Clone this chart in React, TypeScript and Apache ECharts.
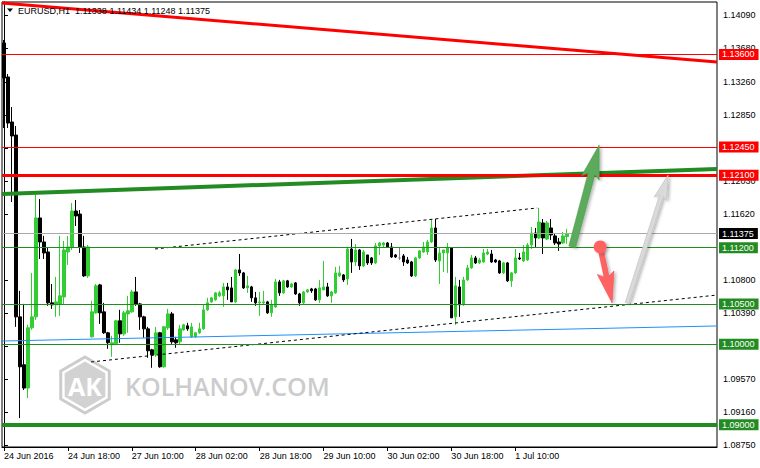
import React, { useEffect, useRef } from "react";
import * as echarts from "echarts";

const FONT = "Liberation Sans, Arial, sans-serif";

// ---- data ----
const tickLabels = [
  "24 Jun 2016", "24 Jun 18:00", "27 Jun 10:00", "28 Jun 02:00", "28 Jun 18:00",
  "29 Jun 10:00", "30 Jun 02:00", "30 Jun 18:00", "1 Jul 10:00",
];
const yTicks = [1.0875, 1.0916, 1.0957, 1.0998, 1.1039, 1.108, 1.1121, 1.1162, 1.1203, 1.1244, 1.1285, 1.1326, 1.1368, 1.1409];

const opens = [
  1.13742, 1.13320, 1.12761, 1.12599, 1.10341, 1.09746, 1.09457, 1.10205, 1.10341, 1.11569,
  1.11271, 1.11147, 1.10515, 1.10490, 1.10502, 1.10589, 1.11147, 1.11209, 1.11656, 1.11618,
  1.11209, 1.10850, 1.10093, 1.10391, 1.10738, 1.10403, 1.10143, 1.09994, 1.10006, 1.10292,
  1.10130, 1.10378, 1.10403, 1.10651, 1.10502, 1.10341, 1.10192, 1.09932, 1.09870, 1.10143,
  1.09721, 1.10205, 1.10378, 1.10056, 1.10031, 1.10180, 1.10230, 1.10093, 1.10093, 1.10143,
  1.10192, 1.10428, 1.10527, 1.10552, 1.10602, 1.10602, 1.10713, 1.10701, 1.10527, 1.10924,
  1.10887, 1.10701, 1.10713, 1.10577, 1.10515, 1.10515, 1.10527, 1.10391, 1.10465, 1.10775,
  1.10639, 1.10788, 1.10713, 1.10763, 1.10626, 1.10515, 1.10651, 1.10688, 1.10688, 1.10552,
  1.10676, 1.10713, 1.10602, 1.10639, 1.10850, 1.10862, 1.10812, 1.11184, 1.11023, 1.11172,
  1.10974, 1.11110, 1.11073, 1.11011, 1.11222, 1.11234, 1.11259, 1.11209, 1.11110, 1.11073,
  1.11098, 1.11048, 1.11023, 1.10850, 1.11073, 1.11147, 1.11147, 1.11271, 1.11445, 1.11036,
  1.11135, 1.11135, 1.11197, 1.10341, 1.10713, 1.10490, 1.10800, 1.10949, 1.11073, 1.11011,
  1.11023, 1.11122, 1.11122, 1.11048, 1.11036, 1.10887, 1.11011, 1.10788, 1.10887, 1.11073,
  1.11036, 1.11048, 1.11234, 1.11383, 1.11321, 1.11507, 1.11308, 1.11445, 1.11346, 1.11271,
  1.11259, 1.11338,
];
const highs = [
  1.13779, 1.13357, 1.12947, 1.12711, 1.10664, 1.10502, 1.10242, 1.10887, 1.11891, 1.11804,
  1.11346, 1.11209, 1.10750, 1.10837, 1.11346, 1.11284, 1.11346, 1.11755, 1.11792, 1.11668,
  1.11346, 1.11234, 1.10540, 1.10750, 1.10750, 1.10515, 1.10155, 1.10106, 1.10304, 1.10428,
  1.10416, 1.10602, 1.10676, 1.10837, 1.10515, 1.10354, 1.10217, 1.09944, 1.10217, 1.10155,
  1.10230, 1.10440, 1.10403, 1.10093, 1.10242, 1.10254, 1.10267, 1.10267, 1.10155, 1.10267,
  1.10490, 1.10577, 1.10589, 1.10651, 1.10664, 1.10763, 1.10763, 1.10837, 1.10936, 1.11122,
  1.10899, 1.10850, 1.10726, 1.10651, 1.10651, 1.10664, 1.10540, 1.10552, 1.10812, 1.10800,
  1.10800, 1.10800, 1.10763, 1.10775, 1.10639, 1.10664, 1.10688, 1.10701, 1.10701, 1.10800,
  1.11036, 1.10763, 1.10664, 1.10961, 1.10974, 1.10874, 1.11209, 1.11308, 1.11246, 1.11184,
  1.11172, 1.11110, 1.11085, 1.11259, 1.11271, 1.11271, 1.11271, 1.11259, 1.11122, 1.11209,
  1.11122, 1.11085, 1.11036, 1.11085, 1.11172, 1.11271, 1.11296, 1.11544, 1.11556, 1.11197,
  1.11172, 1.11259, 1.11209, 1.10837, 1.10800, 1.10837, 1.10986, 1.11110, 1.11098, 1.11073,
  1.11184, 1.11184, 1.11172, 1.11060, 1.11048, 1.11023, 1.11023, 1.10899, 1.11184, 1.11135,
  1.11234, 1.11259, 1.11457, 1.11445, 1.11693, 1.11556, 1.11532, 1.11556, 1.11383, 1.11321,
  1.11395, 1.11434,
];
const lows = [
  1.12686, 1.12686, 1.11767, 1.10217, 1.09084, 1.09432, 1.09333, 1.10180, 1.10304, 1.11060,
  1.11060, 1.10478, 1.10440, 1.10341, 1.10354, 1.10490, 1.10986, 1.11172, 1.11470, 1.11135,
  1.10837, 1.10825, 1.10081, 1.10378, 1.10254, 1.10130, 1.09944, 1.09845, 1.09994, 1.10019,
  1.10106, 1.10143, 1.10391, 1.10478, 1.10180, 1.10081, 1.09833, 1.09709, 1.09845, 1.09709,
  1.09709, 1.10180, 1.10006, 1.09957, 1.09994, 1.10168, 1.10168, 1.10081, 1.10081, 1.10130,
  1.10180, 1.10416, 1.10515, 1.10540, 1.10589, 1.10465, 1.10552, 1.10527, 1.10515, 1.10850,
  1.10688, 1.10639, 1.10527, 1.10478, 1.10354, 1.10502, 1.10378, 1.10341, 1.10453, 1.10602,
  1.10626, 1.10701, 1.10701, 1.10614, 1.10478, 1.10502, 1.10639, 1.10639, 1.10540, 1.10515,
  1.10676, 1.10589, 1.10515, 1.10626, 1.10837, 1.10775, 1.10738, 1.10887, 1.10974, 1.10924,
  1.10961, 1.10986, 1.10986, 1.10998, 1.11110, 1.11209, 1.11197, 1.11073, 1.11073, 1.11048,
  1.10974, 1.10998, 1.10837, 1.10837, 1.11060, 1.11135, 1.11110, 1.11259, 1.11023, 1.10750,
  1.10899, 1.10887, 1.10329, 1.10242, 1.10341, 1.10478, 1.10788, 1.10936, 1.10998, 1.10998,
  1.11011, 1.11110, 1.11011, 1.11011, 1.10874, 1.10874, 1.10775, 1.10713, 1.10874, 1.11048,
  1.11023, 1.11036, 1.11184, 1.11209, 1.11308, 1.11122, 1.11296, 1.11296, 1.11234, 1.11160,
  1.11246, 1.11248,
];
const closes = [
  1.13307, 1.12748, 1.12587, 1.10341, 1.09721, 1.09457, 1.10205, 1.10341, 1.11569, 1.11271,
  1.11135, 1.10515, 1.10490, 1.10527, 1.10602, 1.11172, 1.11209, 1.11656, 1.11594, 1.11209,
  1.10850, 1.11209, 1.10403, 1.10726, 1.10391, 1.10143, 1.10019, 1.10019, 1.10292, 1.10130,
  1.10391, 1.10416, 1.10651, 1.10502, 1.10341, 1.10192, 1.09920, 1.09870, 1.10143, 1.09721,
  1.10217, 1.10378, 1.10031, 1.10019, 1.10192, 1.10242, 1.10192, 1.10217, 1.10143, 1.10192,
  1.10428, 1.10515, 1.10577, 1.10639, 1.10639, 1.10713, 1.10676, 1.10527, 1.10924, 1.10887,
  1.10701, 1.10726, 1.10577, 1.10515, 1.10527, 1.10527, 1.10391, 1.10490, 1.10775, 1.10639,
  1.10788, 1.10713, 1.10750, 1.10626, 1.10515, 1.10651, 1.10676, 1.10664, 1.10552, 1.10701,
  1.10713, 1.10602, 1.10651, 1.10887, 1.10887, 1.10800, 1.11184, 1.11023, 1.11172, 1.10974,
  1.11147, 1.11011, 1.11011, 1.11222, 1.11259, 1.11259, 1.11209, 1.11085, 1.11085, 1.11073,
  1.11023, 1.11011, 1.10850, 1.11073, 1.11160, 1.11209, 1.11271, 1.11445, 1.11048, 1.11135,
  1.11172, 1.11197, 1.10329, 1.10726, 1.10490, 1.10800, 1.10949, 1.11073, 1.11011, 1.11048,
  1.11135, 1.11147, 1.11023, 1.11023, 1.10887, 1.11011, 1.10788, 1.10887, 1.11073, 1.11060,
  1.11147, 1.11234, 1.11383, 1.11321, 1.11519, 1.11321, 1.11507, 1.11358, 1.11259, 1.11246,
  1.11346, 1.11375,
];

// horizontal price levels
const redLevels = [1.136, 1.1245, 1.121];
const greenLevels = [1.112, 1.105, 1.1, 1.09];
const lastPrice = 1.11375;

// trend lines in [barIndex, price]
const resistanceLine = [[-0.5, 1.14239], [178.5, 1.13506]];
const greenTrend = [[-0.5, 1.11867], [178.5, 1.12177]];
const blueTrend = [[-0.5, 1.10041], [178.5, 1.10228]];
const channelTop = [[37.8, 1.11184], [133.5, 1.11693]];
const channelBottom = [[21.8, 1.09781], [178.5, 1.10612]];

// arrows: [startBar, startPrice, tipBar, tipPrice]
const arrows = [
  [142.25, 1.11209, 149, 1.12475],
  [149.25, 1.11209, 152.25, 1.10513],
  [156, 1.10513, 166.25, 1.12103],
];

const slotCount = 179;

function buildCategories(): string[] {
  const mon = ["Jan", "Feb", "Mar", "Apr", "May", "Jun", "Jul", "Aug", "Sep", "Oct", "Nov", "Dec"];
  const out: string[] = [];
  let t = Date.UTC(2016, 5, 24, 2);
  while (out.length < slotCount) {
    const d = new Date(t);
    const wd = d.getUTCDay();
    if (wd !== 0 && wd !== 6) {
      out.push(`${d.getUTCDate()} ${mon[d.getUTCMonth()]} ${String(d.getUTCHours()).padStart(2, "0")}:00`);
    }
    t += 3600000;
  }
  return out;
}

const arrowStyles = [
  { color: "#5cab5c", stroke: "#4a9a4a", shaft: 7, head: 34, headW: 18, notch: 4, dot: 0 },
  { color: "#ff6262", stroke: "#f05050", shaft: 5, head: 31, headW: 17, notch: 4, dot: 6.5 },
  { color: "#dadada", stroke: "#bdbdbd", shaft: 4, head: 25, headW: 13, notch: 3, dot: 0 },
];

export default function App() {
  const ref = useRef<HTMLDivElement>(null);
  useEffect(() => {
    if (!ref.current) return;
    const chart = echarts.init(ref.current, undefined, { renderer: "svg" });
    const categories = buildCategories();
    const labelAt: Record<number, string> = {};
    tickLabels.forEach((l, k) => (labelAt[k * 16] = l));
    const showIdx = (idx: number) => labelAt[idx] !== undefined;

    const candles = opens.map((o, i) => [o, closes[i], lows[i], highs[i]]);

    const levelLabel = (v: number, bg: string) => ({
      show: true,
      position: "end",
      distance: 2,
      formatter: v.toFixed(5),
      color: "#fff",
      backgroundColor: bg,
      fontSize: 9,
      fontFamily: FONT,
      lineHeight: 10,
      padding: [1, 4, 0, 3],
    });

    const markData: any[] = [
      ...redLevels.map((v, k) => ({
        yAxis: v,
        lineStyle: { color: "#ff0000", width: k === 2 ? 3 : 1, type: "solid" },
        label: levelLabel(v, "#ff0000"),
      })),
      {
        yAxis: lastPrice,
        lineStyle: { color: "#a8a8a8", width: 1, type: "solid" },
        label: levelLabel(lastPrice, "#000"),
      },
      ...greenLevels.map((v, k) => ({
        yAxis: v,
        lineStyle: { color: "#228b22", width: k === 3 ? 4 : 1, type: "solid" },
        label: levelLabel(v, "#228b22"),
      })),
    ];

    const trend = (pts: number[][], lineStyle: any) => ({
      type: "line",
      xAxisIndex: 1,
      data: pts,
      symbol: "none",
      silent: true,
      z: 3,
      lineStyle,
    });

    const hexPts = (cx: number, cy: number, r: number) =>
      [0, 1, 2, 3, 4, 5].map((k) => {
        const a = ((-90 + 60 * k) * Math.PI) / 180;
        return [cx + r * Math.cos(a), cy + r * Math.sin(a)];
      });

    const renderArrow = (params: any, api: any) => {
      const s = api.coord([api.value(0), api.value(1)]);
      const t = api.coord([api.value(2), api.value(3)]);
      const st = arrowStyles[params.dataIndex];
      const dx = t[0] - s[0];
      const dy = t[1] - s[1];
      const len = Math.hypot(dx, dy);
      const ux = dx / len, uy = dy / len;
      const nx = -uy, ny = ux;
      const bx = t[0] - ux * st.head, by = t[1] - uy * st.head;
      const jx = bx + ux * st.notch, jy = by + uy * st.notch;
      const hw = st.shaft / 2, hh = st.headW / 2;
      const pts = [
        [s[0] + nx * hw, s[1] + ny * hw],
        [jx + nx * hw, jy + ny * hw],
        [bx + nx * hh, by + ny * hh],
        [t[0], t[1]],
        [bx - nx * hh, by - ny * hh],
        [jx - nx * hw, jy - ny * hw],
        [s[0] - nx * hw, s[1] - ny * hw],
      ];
      const shadow = { shadowColor: "rgba(0,0,0,0.28)", shadowBlur: 3, shadowOffsetX: 2, shadowOffsetY: 1 };
      const children: any[] = [
        { type: "polygon", shape: { points: pts }, style: { fill: st.color, stroke: st.stroke, lineWidth: 0.6, ...shadow } },
      ];
      if (st.dot) {
        children.push({ type: "circle", shape: { cx: s[0], cy: s[1], r: st.dot }, style: { fill: st.color, ...shadow } });
      }
      return { type: "group", children };
    };

    const option: any = {
      animation: false,
      backgroundColor: "#fff",
      grid: { left: 2, top: 2, width: 715, height: 445, show: true, borderColor: "#000", borderWidth: 1, backgroundColor: "#fff" },
      xAxis: [
        {
          type: "category",
          data: categories,
          boundaryGap: true,
          axisLine: { show: true, lineStyle: { color: "#000", width: 1 } },
          axisTick: { show: true, alignWithLabel: true, interval: showIdx, length: 4, lineStyle: { color: "#000" } },
          axisLabel: {
            interval: showIdx,
            formatter: (_v: string, idx: number) => labelAt[idx] || "",
            align: "left",
            margin: 4,
            fontSize: 9,
            color: "#000",
            fontFamily: FONT,
            showMinLabel: true,
            hideOverlap: false,
          },
          splitLine: { show: false },
        },
        {
          type: "value",
          min: -0.5,
          max: slotCount - 0.5,
          show: false,
          splitLine: { show: false },
        },
      ],
      yAxis: {
        type: "value",
        position: "right",
        min: 1.08725,
        max: 1.14251,
        axisLine: { show: true, lineStyle: { color: "#000", width: 1 } },
        axisTick: { show: true, length: 4, customValues: yTicks, lineStyle: { color: "#000" } },
        axisLabel: {
          customValues: yTicks,
          formatter: (v: number) => v.toFixed(5),
          margin: 6,
          fontSize: 9,
          color: "#000",
          fontFamily: FONT,
        },
        splitLine: { show: false },
      },
      graphic: [
        {
          type: "group",
          silent: true,
          z: 1,
          children: [
            { type: "polygon", shape: { points: hexPts(85, 385, 28) }, style: { fill: "none", stroke: "#cccccc", lineWidth: 3 } },
            { type: "polygon", shape: { points: hexPts(85, 385, 23.5) }, style: { fill: "#d2d2d2" } },
            {
              type: "text",
              x: 85,
              y: 386,
              style: { text: "AK", fill: "#fff", font: "bold 25px 'Open Sans', Arial, sans-serif", align: "center", verticalAlign: "middle" },
            },
            {
              type: "text",
              x: 125,
              y: 386,
              style: { text: "KOLHANOV.COM", fill: "#cccccc", font: "600 25px 'Open Sans', Arial, sans-serif", align: "left", verticalAlign: "middle" },
            },
          ],
        },
        {
          type: "polygon",
          silent: true,
          z: 10,
          shape: { points: [[7, 8.5], [13, 8.5], [10, 12]] },
          style: { fill: "#000" },
        },
        {
          type: "text",
          silent: true,
          z: 10,
          x: 18,
          y: 10.5,
          style: {
            text: "EURUSD,H1  1.11338 1.11434 1.11248 1.11375",
            fill: "#000",
            font: `9px ${FONT}`,
            verticalAlign: "middle",
          },
        },
      ],
      series: [
        {
          type: "candlestick",
          data: candles,
          barWidth: 3,
          itemStyle: {
            color: "#32cd32",
            color0: "#000000",
            borderColor: "#32cd32",
            borderColor0: "#000000",
            borderColorDoji: "#808080",
            borderWidth: 1,
          },
          markLine: {
            silent: true,
            precision: 6,
            symbol: ["none", "none"],
            animation: false,
            label: { show: false },
            emphasis: { disabled: true },
            data: markData,
          },
        },
        trend(resistanceLine, { color: "#ff0000", width: 3, type: "solid" }),
        trend(greenTrend, { color: "#228b22", width: 4, type: "solid" }),
        trend(blueTrend, { color: "#1e90ff", width: 1, type: "solid" }),
        trend(channelTop, { color: "#000", width: 1, type: [3, 3] }),
        trend(channelBottom, { color: "#000", width: 1, type: [3, 3] }),
        {
          type: "custom",
          xAxisIndex: 1,
          silent: true,
          z: 6,
          clip: false,
          data: arrows,
          encode: { x: [0, 2], y: [1, 3] },
          renderItem: renderArrow,
        },
      ],
    };
    chart.setOption(option);
    return () => chart.dispose();
  }, []);
  return <div ref={ref} style={{ width: 760, height: 468, position: "absolute", left: 0, top: 0, background: "#fff" }} />;
}
